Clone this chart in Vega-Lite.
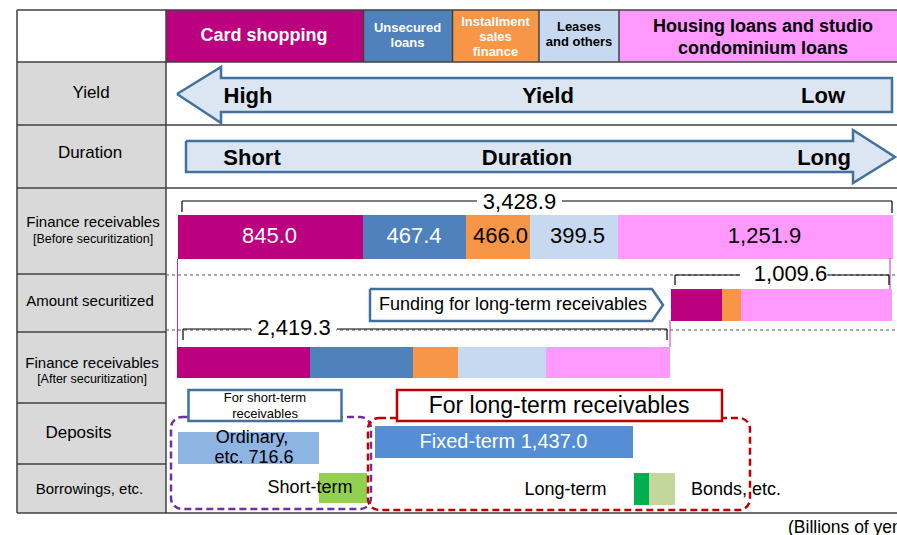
{
  "$schema": "https://vega.github.io/schema/vega-lite/v6.json",
  "width": 897,
  "height": 535,
  "padding": 0,
  "autosize": {"type": "none"},
  "background": "white",
  "config": {"view": {"stroke": null}},
  "datasets": {
    "fills": [
      {"k": "Row label", "x": 17, "x2": 166, "y": 62, "y2": 513},
      {"k": "Card shopping", "x": 166, "x2": 363.5, "y": 10, "y2": 62},
      {"k": "Unsecured loans", "x": 363.5, "x2": 452.5, "y": 10, "y2": 62},
      {"k": "Installment sales finance", "x": 452.5, "x2": 539, "y": 10, "y2": 62},
      {"k": "Leases and others", "x": 539, "x2": 619, "y": 10, "y2": 62},
      {"k": "Housing loans", "x": 619, "x2": 897, "y": 10, "y2": 62},
      {"k": "Card shopping", "x": 178, "x2": 363, "y": 215, "y2": 259},
      {"k": "Unsecured loans", "x": 363, "x2": 466, "y": 215, "y2": 259},
      {"k": "Installment sales finance", "x": 466, "x2": 530, "y": 215, "y2": 259},
      {"k": "Leases and others", "x": 530, "x2": 618, "y": 215, "y2": 259},
      {"k": "Housing loans", "x": 618, "x2": 893, "y": 215, "y2": 259},
      {"k": "Card shopping", "x": 671, "x2": 722, "y": 289, "y2": 321},
      {"k": "Installment sales finance", "x": 722, "x2": 741, "y": 289, "y2": 321},
      {"k": "Housing loans", "x": 741, "x2": 892, "y": 289, "y2": 321},
      {"k": "Card shopping", "x": 177, "x2": 310, "y": 347, "y2": 378},
      {"k": "Unsecured loans", "x": 310, "x2": 413, "y": 347, "y2": 378},
      {"k": "Installment sales finance", "x": 413, "x2": 458, "y": 347, "y2": 378},
      {"k": "Leases and others", "x": 458, "x2": 546, "y": 347, "y2": 378},
      {"k": "Housing loans", "x": 546, "x2": 670, "y": 347, "y2": 378},
      {"k": "Ordinary deposits", "x": 178, "x2": 319, "y": 432, "y2": 464},
      {"k": "Fixed-term deposits", "x": 375, "x2": 633, "y": 426, "y2": 458},
      {"k": "Short-term borrowings", "x": 319, "x2": 367, "y": 473, "y2": 503},
      {"k": "Long-term borrowings", "x": 634, "x2": 649, "y": 473, "y2": 505},
      {"k": "Bonds", "x": 649, "x2": 675, "y": 473, "y2": 505}
    ],
    "grid": [
      {"x": 17, "x2": 897, "y": 10, "y2": 10},
      {"x": 17, "x2": 897, "y": 62, "y2": 62},
      {"x": 17, "x2": 897, "y": 125, "y2": 125},
      {"x": 17, "x2": 897, "y": 188, "y2": 188},
      {"x": 17, "x2": 897, "y": 513, "y2": 513},
      {"x": 17, "x2": 166, "y": 274, "y2": 274},
      {"x": 17, "x2": 166, "y": 332, "y2": 332},
      {"x": 17, "x2": 166, "y": 403, "y2": 403},
      {"x": 17, "x2": 166, "y": 464, "y2": 464},
      {"x": 17, "x2": 17, "y": 10, "y2": 513},
      {"x": 166, "x2": 166, "y": 10, "y2": 513},
      {"x": 363.5, "x2": 363.5, "y": 10, "y2": 62},
      {"x": 452.5, "x2": 452.5, "y": 10, "y2": 62},
      {"x": 539, "x2": 539, "y": 10, "y2": 62},
      {"x": 619, "x2": 619, "y": 10, "y2": 62}
    ],
    "dashes": [
      {"x": 166, "x2": 897, "y": 275, "y2": 275},
      {"x": 166, "x2": 897, "y": 330, "y2": 330}
    ],
    "labelBacks": [
      {"x": 741, "x2": 827, "y": 265, "y2": 284},
      {"x": 252, "x2": 336, "y": 319, "y2": 338}
    ],
    "links": [
      {"x": 177.5, "x2": 177.5, "y": 259, "y2": 347},
      {"x": 890, "x2": 890, "y": 258, "y2": 289},
      {"x": 670, "x2": 670, "y": 320, "y2": 347}
    ],
    "brackets": [
      {"x": 182, "x2": 477, "y": 201, "y2": 201},
      {"x": 562, "x2": 892, "y": 201, "y2": 201},
      {"x": 182, "x2": 182, "y": 201, "y2": 212},
      {"x": 892, "x2": 892, "y": 201, "y2": 213},
      {"x": 675, "x2": 740, "y": 275, "y2": 275},
      {"x": 828, "x2": 889, "y": 275, "y2": 275},
      {"x": 675, "x2": 675, "y": 275, "y2": 285},
      {"x": 889, "x2": 889, "y": 275, "y2": 285},
      {"x": 183, "x2": 251, "y": 329, "y2": 329},
      {"x": 337, "x2": 667, "y": 329, "y2": 329},
      {"x": 183, "x2": 183, "y": 329, "y2": 340},
      {"x": 667, "x2": 667, "y": 329, "y2": 340}
    ],
    "arrows": [
      {"shape": "Yield", "o": 1, "x": 177, "y": 94},
      {"shape": "Yield", "o": 2, "x": 221, "y": 67},
      {"shape": "Yield", "o": 3, "x": 221, "y": 78},
      {"shape": "Yield", "o": 4, "x": 892, "y": 78},
      {"shape": "Yield", "o": 5, "x": 892, "y": 112},
      {"shape": "Yield", "o": 6, "x": 221, "y": 112},
      {"shape": "Yield", "o": 7, "x": 221, "y": 123},
      {"shape": "Yield", "o": 8, "x": 177, "y": 94},
      {"shape": "Duration", "o": 1, "x": 186, "y": 141},
      {"shape": "Duration", "o": 2, "x": 853, "y": 141},
      {"shape": "Duration", "o": 3, "x": 853, "y": 130},
      {"shape": "Duration", "o": 4, "x": 895, "y": 157},
      {"shape": "Duration", "o": 5, "x": 853, "y": 183},
      {"shape": "Duration", "o": 6, "x": 853, "y": 172},
      {"shape": "Duration", "o": 7, "x": 186, "y": 172},
      {"shape": "Duration", "o": 8, "x": 186, "y": 141}
    ],
    "funding": [
      {"o": 1, "x": 370, "y": 289},
      {"o": 2, "x": 652, "y": 289},
      {"o": 3, "x": 663, "y": 305},
      {"o": 4, "x": 652, "y": 321},
      {"o": 5, "x": 370, "y": 321},
      {"o": 6, "x": 370, "y": 289}
    ],
    "groups": [
      {"k": "short", "x": 171, "x2": 371, "y": 417, "y2": 509},
      {"k": "long", "x": 368, "x2": 750, "y": 418, "y2": 510}
    ],
    "boxes": [
      {"k": "short", "x": 188.5, "x2": 341.5, "y": 390, "y2": 421},
      {"k": "long", "x": 397, "x2": 722, "y": 390, "y2": 421}
    ],
    "boldText": [
      {"t": "Card shopping", "x": 264, "y": 36, "r": "hdr", "bg": "dark"},
      {"t": "Housing loans and studio", "x": 763, "y": 27, "r": "hdr", "bg": "light"},
      {"t": "condominium loans", "x": 763, "y": 49, "r": "hdr", "bg": "light"},
      {"t": "Unsecured", "x": 407.5, "y": 28, "r": "hdrsm", "bg": "dark"},
      {"t": "loans", "x": 407.5, "y": 43, "r": "hdrsm", "bg": "dark"},
      {"t": "Installment", "x": 495.5, "y": 22, "r": "hdrsm", "bg": "dark"},
      {"t": "sales", "x": 495.5, "y": 37, "r": "hdrsm", "bg": "dark"},
      {"t": "finance", "x": 495.5, "y": 52, "r": "hdrsm", "bg": "dark"},
      {"t": "Leases", "x": 579, "y": 27, "r": "hdrsm", "bg": "light"},
      {"t": "and others", "x": 579, "y": 42, "r": "hdrsm", "bg": "light"},
      {"t": "High", "x": 248, "y": 96, "r": "arrow", "bg": "light"},
      {"t": "Yield", "x": 548, "y": 96, "r": "arrow", "bg": "light"},
      {"t": "Low", "x": 823, "y": 96, "r": "arrow", "bg": "light"},
      {"t": "Short", "x": 252, "y": 158, "r": "arrow", "bg": "light"},
      {"t": "Duration", "x": 527, "y": 158, "r": "arrow", "bg": "light"},
      {"t": "Long", "x": 824, "y": 158, "r": "arrow", "bg": "light"}
    ],
    "plainText": [
      {"t": "845.0", "x": 269.5, "y": 236, "r": "value", "bg": "dark"},
      {"t": "467.4", "x": 414, "y": 236, "r": "value", "bg": "dark"},
      {"t": "466.0", "x": 500.5, "y": 236, "r": "value", "bg": "light"},
      {"t": "399.5", "x": 577.5, "y": 236, "r": "value", "bg": "light"},
      {"t": "1,251.9", "x": 764.5, "y": 236, "r": "value", "bg": "light"},
      {"t": "3,428.9", "x": 519.5, "y": 202, "r": "value", "bg": "light"},
      {"t": "1,009.6", "x": 790.5, "y": 274, "r": "value", "bg": "light"},
      {"t": "2,419.3", "x": 294, "y": 328, "r": "value", "bg": "light"},
      {"t": "Yield", "x": 91, "y": 93, "r": "rowlbl", "bg": "light"},
      {"t": "Duration", "x": 90, "y": 153, "r": "rowlbl", "bg": "light"},
      {"t": "Deposits", "x": 78.5, "y": 433, "r": "rowlbl", "bg": "light"},
      {"t": "Finance receivables", "x": 93, "y": 222, "r": "rowlbl2", "bg": "light"},
      {"t": "[Before securitization]", "x": 93, "y": 239, "r": "rowsub", "bg": "light"},
      {"t": "Amount securitized", "x": 90, "y": 301, "r": "rowlbl2", "bg": "light"},
      {"t": "Finance receivables", "x": 92, "y": 363, "r": "rowlbl2", "bg": "light"},
      {"t": "[After securitization]", "x": 92, "y": 379, "r": "rowsub", "bg": "light"},
      {"t": "Borrowings, etc.", "x": 89.5, "y": 489, "r": "rowlbl2", "bg": "light"},
      {"t": "Funding for long-term receivables", "x": 513, "y": 305, "r": "note", "bg": "light"},
      {"t": "For long-term receivables", "x": 559, "y": 406, "r": "big", "bg": "light"},
      {"t": "For short-term", "x": 265, "y": 398, "r": "boxsm", "bg": "light"},
      {"t": "receivables", "x": 265, "y": 414, "r": "boxsm", "bg": "light"},
      {"t": "Ordinary,", "x": 252, "y": 438, "r": "note", "bg": "light"},
      {"t": "etc. 716.6", "x": 254, "y": 458, "r": "note", "bg": "light"},
      {"t": "Fixed-term 1,437.0", "x": 503.5, "y": 442, "r": "fixed", "bg": "dark"},
      {"t": "Short-term", "x": 310, "y": 488, "r": "note", "bg": "light"},
      {"t": "Long-term", "x": 565.5, "y": 490, "r": "note", "bg": "light"},
      {"t": "Bonds, etc.", "x": 736, "y": 490, "r": "note", "bg": "light"}
    ],
    "unitText": [
      {"t": "(Billions of yen)", "x": 788, "y": 528}
    ]
  },
  "encoding": {
    "x": {"field": "x", "type": "quantitative", "scale": {"domain": [0, 897], "nice": false, "zero": false}, "axis": null},
    "y": {"field": "y", "type": "quantitative", "scale": {"domain": [0, 535], "nice": false, "zero": false, "reverse": true}, "axis": null}
  },
  "layer": [
    {
      "data": {"name": "fills"},
      "mark": {"type": "rect"},
      "encoding": {
        "x2": {"field": "x2"},
        "y2": {"field": "y2"},
        "fill": {
          "field": "k", "type": "nominal", "legend": null,
          "scale": {
            "domain": ["Card shopping", "Unsecured loans", "Installment sales finance", "Leases and others", "Housing loans", "Row label", "Ordinary deposits", "Fixed-term deposits", "Short-term borrowings", "Long-term borrowings", "Bonds"],
            "range": ["#BB0080", "#4F81BD", "#F79646", "#C6D9F1", "#FF99FF", "#D9D9D9", "#8DB4E2", "#558ED5", "#92D050", "#00B050", "#C3D69B"]
          }
        }
      }
    },
    {
      "data": {"name": "grid"},
      "mark": {"type": "rule", "color": "#404040", "strokeWidth": 1.5},
      "encoding": {"x2": {"field": "x2"}, "y2": {"field": "y2"}}
    },
    {
      "data": {"name": "dashes"},
      "mark": {"type": "rule", "color": "#555555", "strokeWidth": 1, "strokeDash": [3, 3]},
      "encoding": {"x2": {"field": "x2"}, "y2": {"field": "y2"}}
    },
    {
      "data": {"name": "labelBacks"},
      "mark": {"type": "rect", "fill": "#FFFFFF"},
      "encoding": {"x2": {"field": "x2"}, "y2": {"field": "y2"}}
    },
    {
      "data": {"name": "links"},
      "mark": {"type": "rule", "color": "#CC3399", "strokeWidth": 1},
      "encoding": {"x2": {"field": "x2"}, "y2": {"field": "y2"}}
    },
    {
      "data": {"name": "brackets"},
      "mark": {"type": "rule", "color": "#000000", "strokeWidth": 1.2},
      "encoding": {"x2": {"field": "x2"}, "y2": {"field": "y2"}}
    },
    {
      "data": {"name": "arrows"},
      "mark": {"type": "line", "fill": "#DCE6F2", "stroke": "#41719C", "strokeWidth": 2.5, "strokeJoin": "miter"},
      "encoding": {"detail": {"field": "shape"}, "order": {"field": "o", "type": "quantitative"}}
    },
    {
      "data": {"name": "funding"},
      "mark": {"type": "line", "fill": "#FFFFFF", "stroke": "#41719C", "strokeWidth": 2.5, "strokeJoin": "miter"},
      "encoding": {"order": {"field": "o", "type": "quantitative"}}
    },
    {
      "data": {"name": "groups"},
      "mark": {"type": "rect", "fill": null, "filled": false, "strokeWidth": 2.5, "strokeDash": [7, 4], "cornerRadius": 11},
      "encoding": {
        "x2": {"field": "x2"},
        "y2": {"field": "y2"},
        "stroke": {"field": "k", "type": "nominal", "legend": null, "scale": {"domain": ["short", "long"], "range": ["#7030A0", "#C00000"]}}
      }
    },
    {
      "data": {"name": "boxes"},
      "mark": {"type": "rect", "fill": "#FFFFFF", "strokeWidth": 2.5},
      "encoding": {
        "x2": {"field": "x2"},
        "y2": {"field": "y2"},
        "stroke": {"field": "k", "type": "nominal", "legend": null, "scale": {"domain": ["short", "long"], "range": ["#41719C", "#C00000"]}}
      }
    },
    {
      "data": {"name": "boldText"},
      "mark": {"type": "text", "font": "Liberation Sans", "fontWeight": "bold", "align": "center", "baseline": "middle"},
      "encoding": {
        "text": {"field": "t"},
        "size": {"field": "r", "type": "ordinal", "legend": null, "scale": {"type": "ordinal", "domain": ["hdr", "hdrsm", "arrow"], "range": [18, 13, 22]}},
        "color": {"field": "bg", "type": "nominal", "legend": null, "scale": {"domain": ["dark", "light"], "range": ["#FFFFFF", "#000000"]}}
      }
    },
    {
      "data": {"name": "plainText"},
      "mark": {"type": "text", "font": "Liberation Sans", "align": "center", "baseline": "middle"},
      "encoding": {
        "text": {"field": "t"},
        "size": {"field": "r", "type": "ordinal", "legend": null, "scale": {"type": "ordinal", "domain": ["value", "rowlbl", "rowlbl2", "rowsub", "note", "big", "boxsm", "fixed"], "range": [22, 17, 15, 12.5, 18, 23, 13, 20]}},
        "color": {"field": "bg", "type": "nominal", "legend": null, "scale": {"domain": ["dark", "light"], "range": ["#FFFFFF", "#000000"]}}
      }
    },
    {
      "data": {"name": "unitText"},
      "mark": {"type": "text", "font": "Liberation Sans", "align": "left", "baseline": "middle", "fontSize": 17.5, "color": "#000000"},
      "encoding": {"text": {"field": "t"}}
    }
  ],
  "resolve": {"scale": {"fill": "independent", "stroke": "independent", "size": "independent", "color": "independent"}}
}
